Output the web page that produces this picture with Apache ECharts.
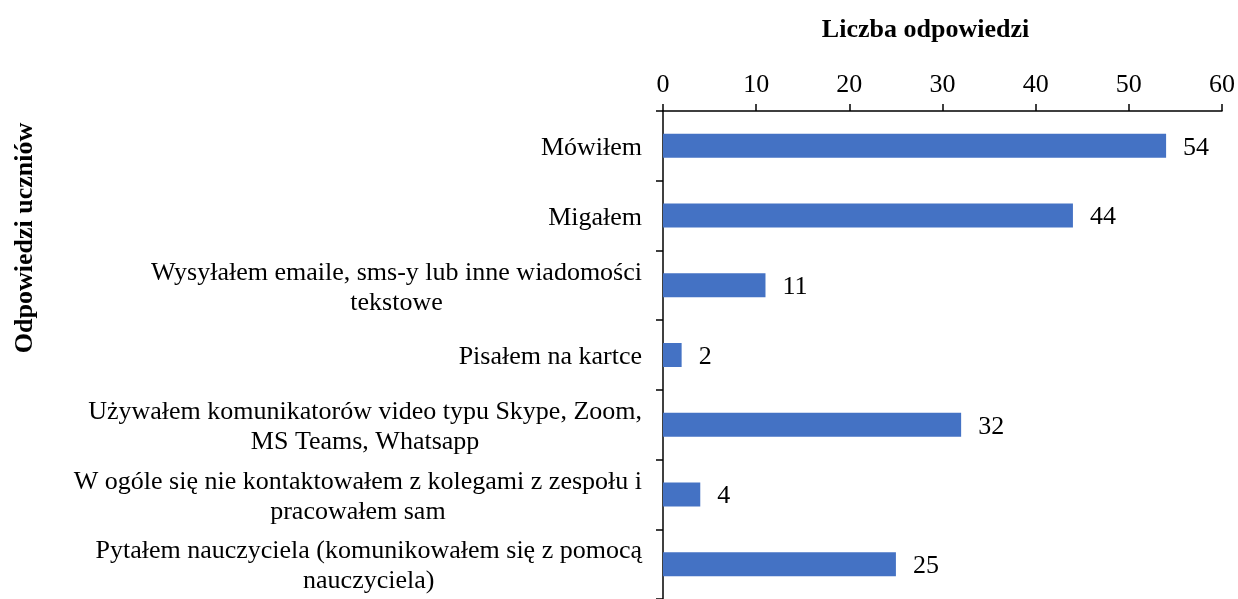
<!DOCTYPE html>
<html>
<head>
<meta charset="utf-8">
<script src="https://cdn.jsdelivr.net/npm/echarts@6/dist/echarts.min.js"></script>
<style>
  html, body { margin: 0; padding: 0; background: #fff; }
  #chart { width: 1238px; height: 599px; }
</style>
</head>
<body>
<div id="chart"></div>
<script>
// kategorie (od góry)
const categories = [
  'Mówiłem',
  'Migałem',
  'Wysyłałem emaile, sms-y lub inne wiadomości\ntekstowe',
  'Pisałem na kartce',
  'Używałem komunikatorów video typu Skype, Zoom,\nMS Teams, Whatsapp',
  'W ogóle się nie kontaktowałem z kolegami z zespołu i\npracowałem sam',
  'Pytałem nauczyciela (komunikowałem się z pomocą\nnauczyciela)'
]
// liczba odpowiedzi
const values = [54, 44, 11, 2, 32, 4, 25]

const font = '"Liberation Serif", "Times New Roman", serif'

const chart = echarts.init(document.getElementById('chart'))
chart.setOption({
  animation: false,
  grid: { left: 663, right: 16, top: 111, bottom: 0, containLabel: false },
  xAxis: {
    type: 'value',
    position: 'top',
    min: 0,
    max: 60,
    interval: 10,
    name: 'Liczba odpowiedzi',
    nameLocation: 'middle',
    nameGap: 68,
    nameTextStyle: { fontFamily: font, fontSize: 26, fontWeight: 'bold', color: '#000', padding: [0, 34, 0, 0] },
    axisLine: { show: true, lineStyle: { color: '#000', width: 1.5 } },
    axisTick: { show: true, length: 7, lineStyle: { color: '#000', width: 1.5 } },
    axisLabel: { fontFamily: font, fontSize: 26, color: '#000', margin: 13 },
    splitLine: { show: false }
  },
  yAxis: {
    type: 'category',
    inverse: true,
    data: categories,
    axisLine: { show: true, lineStyle: { color: '#000', width: 1.5 } },
    axisTick: { show: true, length: 7, lineStyle: { color: '#000', width: 1.5 } },
    axisLabel: {
      margin: 21,
      padding: [5, 0, 0, 0],
      formatter: (v) => v.split('\n').map(l => '{c|' + l + '}').join('\n'),
      rich: {
        c: { fontFamily: font, fontSize: 26, color: '#000', align: 'center', lineHeight: 30 }
      }
    }
  },
  graphic: [{
    type: 'text',
    x: 25,
    y: 238,
    rotation: Math.PI / 2,
    style: {
      text: 'Odpowiedzi uczniów',
      fontFamily: font,
      fontSize: 26,
      fontWeight: 'bold',
      fill: '#000',
      align: 'center',
      verticalAlign: 'middle'
    }
  }],
  series: [{
    type: 'bar',
    data: values,
    barWidth: 24,
    itemStyle: { color: '#4472C4' },
    label: {
      show: true,
      position: 'right',
      distance: 17,
      offset: [0, 2],
      fontFamily: font,
      fontSize: 26,
      color: '#000'
    }
  }]
})
</script>
</body>
</html>
